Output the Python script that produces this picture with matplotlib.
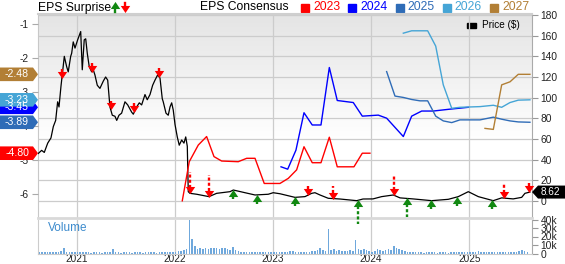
import numpy as np
import matplotlib.pyplot as plt
from matplotlib.lines import Line2D
from matplotlib.patches import Polygon, Rectangle
from matplotlib.transforms import blended_transform_factory

plt.rcParams['font.family'] = ['Liberation Sans', 'DejaVu Sans']
plt.rcParams['axes.unicode_minus'] = False

# ---- data (dates as decimal years) ----
price_t = [2020.609, 2020.643, 2020.670, 2020.705, 2020.738, 2020.762, 2020.786, 2020.806,
           2020.820, 2020.840, 2020.853, 2020.874, 2020.898, 2020.914, 2020.939, 2020.949,
           2020.965, 2020.983, 2021.010, 2021.041, 2021.057, 2021.077, 2021.092, 2021.108,
           2021.128, 2021.153, 2021.169, 2021.186, 2021.210, 2021.237, 2021.271, 2021.295,
           2021.316, 2021.339, 2021.363, 2021.390, 2021.408, 2021.431, 2021.458, 2021.492,
           2021.520, 2021.560, 2021.577, 2021.611, 2021.638, 2021.662, 2021.696, 2021.719,
           2021.747, 2021.774, 2021.798, 2021.825, 2021.849, 2021.872, 2021.882, 2021.910,
           2021.933, 2021.951, 2021.968, 2021.984, 2022.002, 2022.025, 2022.045, 2022.070,
           2022.093, 2022.111, 2022.127, 2022.137, 2022.154, 2022.223, 2022.348, 2022.426,
           2022.562, 2022.596, 2022.715, 2022.817, 2022.952, 2023.002, 2023.071, 2023.224,
           2023.326, 2023.394, 2023.428, 2023.479, 2023.563, 2023.683, 2023.853, 2023.917,
           2024.019, 2024.107, 2024.226, 2024.294, 2024.426, 2024.617, 2024.786, 2024.888,
           2024.990, 2025.092, 2025.244, 2025.330, 2025.447, 2025.534, 2025.567, 2025.618]
price_v = [46, 49, 47, 56, 61, 72, 78, 96,
           91, 111, 122, 140, 130, 125, 140, 143,
           154, 148, 156, 164, 127, 156, 157, 143,
           130, 125, 127, 122, 112, 109, 116, 120,
           117, 91, 83, 82, 78, 83, 85, 96,
           93, 86, 84, 91, 95, 93, 103, 98,
           103, 112, 117, 122, 119, 99, 96, 85,
           83, 91, 95, 88, 74, 62, 54, 59,
           56, 62, 53, 9, 7.4, 6.5, 4.2, 7.4,
           9, 10.6, 8, 5.8, 6.5, 8, 7, 3.5,
           4.2, 7.4, 8, 5.8, 2.6, 1.9, 0.3, 1.9,
           2, 4.2, 5.8, 3, 2, 0.3, 1.6, 4.2,
           9, 4.2, 0.3, 3, 2, 3.5, 7.4, 8.62]

eps23_t = [2022.076, 2022.147, 2022.239, 2022.324, 2022.399, 2022.477, 2022.646, 2022.732,
           2022.817, 2022.911, 2023.071, 2023.156, 2023.241, 2023.316, 2023.400, 2023.489,
           2023.574, 2023.655, 2023.825, 2023.910, 2023.988]
eps23_v = [-6.20, -5.05, -4.56, -4.31, -4.90, -5.03, -5.05, -4.95,
           -4.95, -5.69, -5.69, -5.54, -5.29, -4.61, -5.08, -5.08,
           -4.33, -5.20, -5.20, -4.80, -4.80]
eps24_t = [2023.082, 2023.150, 2023.234, 2023.316, 2023.400, 2023.489, 2023.574, 2023.655,
           2023.818, 2023.910, 2024.073, 2024.158, 2024.328, 2024.413, 2024.515, 2024.633,
           2024.786, 2024.990]
eps24_v = [-5.20, -5.27, -4.71, -3.61, -3.97, -3.97, -2.28, -3.25,
           -3.31, -3.71, -3.68, -3.77, -4.31, -3.71, -3.56, -3.56,
           -3.51, -3.45]
eps25_t = [2024.158, 2024.243, 2024.328, 2024.413, 2024.498, 2024.576, 2024.658, 2024.735,
           2024.821, 2024.905, 2025.109, 2025.245, 2025.330, 2025.415, 2025.499, 2025.618]
eps25_v = [-2.40, -3.12, -3.16, -3.22, -3.26, -3.26, -3.71, -3.85,
           -3.90, -3.82, -3.82, -3.74, -3.80, -3.85, -3.88, -3.89]
eps26_t = [2024.328, 2024.413, 2024.576, 2024.658, 2024.735, 2024.821, 2024.905, 2025.109,
           2025.245, 2025.330, 2025.415, 2025.499, 2025.618]
eps26_v = [-1.27, -1.20, -1.20, -1.65, -2.79, -3.48, -3.45, -3.43,
           -3.39, -3.45, -3.31, -3.24, -3.23]
eps27_t = [2025.160, 2025.245, 2025.330, 2025.415, 2025.499, 2025.618]
eps27_v = [-4.07, -4.10, -2.79, -2.70, -2.48, -2.48]

years = ['2023', '2024', '2025', '2026', '2027']
colors = ['#ff0000', '#0000ff', '#2f6cb7', '#45a5d6', '#b27f35']
eps_series = [(eps23_t, eps23_v), (eps24_t, eps24_v), (eps25_t, eps25_v),
              (eps26_t, eps26_v), (eps27_t, eps27_v)]

# EPS surprise: report dates, dashed tail length (0 = short solid arrow)
miss_t = [2020.850, 2021.153, 2021.346, 2021.587, 2021.842, 2022.154, 2022.348,
          2023.360, 2023.610, 2024.233, 2025.357, 2025.610]
miss_tail = [0, 0, 0, 0, 0, 16, 16, 0, 7, 14, 9, 0]
beat_t = [2022.596, 2022.840, 2023.224, 2023.863, 2024.368, 2024.610, 2024.870, 2025.228]
beat_tail = [0, 0, 0, 18, 13, 0, 0, 0]

# volume in thousands, one bar every ~10 days from mid 2020
vol_start = 2020.62
vol_k = [1.5, 1.2, 1.8, 1.5, 2.0, 1.5, 1.8, 2.2, 2.5, 6.0, 2.0, 1.5, 1.8, 1.2,
         # 2021
         1.5, 1.2, 1.8, 1.5, 1.2, 1.0, 1.5, 1.8, 1.2, 1.0, 1.3, 1.5, 1.8, 5.0, 1.5, 1.2, 1.0, 1.3,
         1.5, 1.2, 1.0, 1.2, 1.5, 1.3, 1.0, 1.2, 1.5, 1.3, 1.2, 1.0, 1.4, 1.6, 1.2, 1.5, 1.8, 2.0,
         # 2022
         2.0, 3.0, 3.5, 4.0, 5.0, 39.0, 17.0, 9.0, 5.0, 6.0, 5.0, 7.0, 5.0, 6.0, 7.0, 6.0, 5.0, 7.0,
         6.0, 5.0, 4.0, 8.0, 4.0, 2.5, 2.0, 2.0, 1.8, 2.0, 1.5, 1.8, 1.5, 1.5, 1.2, 1.5, 1.3, 1.5,
         # 2023
         1.2, 1.5, 1.3, 1.5, 1.8, 2.0, 2.5, 3.0, 2.0, 1.5, 1.8, 2.0, 1.5, 2.0, 2.5, 3.0, 4.0, 6.0,
         4.5, 3.5, 29.0, 4.0, 5.0, 3.0, 4.0, 3.0, 3.5, 3.0, 4.0, 3.0, 16.0, 5.0, 4.0, 5.0, 4.0, 3.0,
         # 2024
         2.0, 3.0, 5.0, 4.0, 3.0, 4.0, 5.0, 4.0, 9.0, 6.0, 5.0, 4.0, 3.0, 2.0, 1.5, 1.5, 1.2, 1.5,
         1.2, 1.0, 1.2, 1.5, 1.3, 1.2, 1.0, 1.2, 1.5, 1.2, 1.0, 1.2, 1.3, 1.5, 1.2, 1.5, 1.8, 1.5,
         # 2025
         1.5, 1.8, 2.0, 3.0, 1.5, 1.2, 1.5, 1.3, 1.5, 1.2, 1.8, 1.5, 1.3, 1.2, 1.5, 1.2, 1.5, 1.8,
         2.5, 4.0, 3.5, 2.0]

year_ticks = [2021, 2022, 2023, 2024, 2025]
XLIM = (2020.606, 2025.639)

# ---- layout (pixels of a 565x264 canvas) ----
W, H = 565, 264
fig = plt.figure(figsize=(W / 100, H / 100), dpi=100)


def box(left, top, right, bottom):
    return [left / W, 1 - bottom / H, (right - left) / W, (bottom - top) / H]


# gradient background of the main panel
bg = fig.add_axes(box(38, 14, 532, 217.5), zorder=0)
g = np.clip(0.895 + 0.105 * np.arange(100) / 62, 0, 1)
bg.imshow(np.dstack([g, g, g]).reshape(100, 1, 3), aspect='auto', extent=[0, 1, 0, 1])
bg.axis('off')

ax_v = fig.add_axes(box(38, 219.5, 532, 253.5), zorder=0.5)
ax = fig.add_axes(box(38, 14, 532, 217.5), zorder=1)
ax.patch.set_alpha(0)
ax_e = ax.twinx()
ax_e.set_zorder(2)
ax.yaxis.tick_right()
ax_e.yaxis.tick_left()

grid_c = '#cccccc'

# price axis (right)
ax.set_xlim(*XLIM)
ax.set_ylim(-16, 181)
ax.set_yticks(range(0, 181, 20))
ax.set_xticks(year_ticks)
ax.grid(True, color=grid_c, lw=0.9)
ax.set_axisbelow(True)
ax.tick_params(axis='x', length=0, labelbottom=False)
ax.tick_params(axis='y', right=True, left=False, length=4.5, color='#999999',
               labelsize=7.4, pad=1.5, labelcolor='#222222')
ax.spines['top'].set_color('#cfcfcf')
ax.spines['top'].set_linewidth(1.5)
ax.spines['bottom'].set_color('#d9d9d9')
ax.spines['bottom'].set_linewidth(2)
ax.spines['left'].set_color('#c8c8c8')
ax.spines['right'].set_color('#aaaaaa')

ax.plot(price_t, price_v, color='black', lw=0.9, zorder=3)

# EPS axis (left)
ax_e.set_ylim(-6.691, -0.706)
ax_e.set_yticks([-1, -2, -3, -4, -5, -6])
ax_e.tick_params(axis='y', left=True, right=False, length=4.5, color='#aaaaaa',
                 labelsize=7.4, pad=2, labelcolor='#222222')
for s in ax_e.spines.values():
    s.set_visible(False)

for (t, v), c in zip(eps_series, colors):
    ax_e.plot(t, v, color=c, lw=1.0, zorder=3)

# value tags on the left, drawn from the last consensus values
tr_l = blended_transform_factory(ax_e.transAxes, ax_e.transData)
hh = 6.8 / 34
for (t, v), c in zip(eps_series, colors):
    val = v[-1]
    pts = [(-38 / 494, val + hh), (-5 / 494, val + hh), (0, val),
           (-5 / 494, val - hh), (-38 / 494, val - hh)]
    ax_e.add_patch(Polygon(pts, closed=True, transform=tr_l, clip_on=False,
                           facecolor=c, edgecolor='none', zorder=6))
    ax_e.text(-21 / 494, val, f'{val:.2f}', transform=tr_l, color='white',
              fontsize=7.6, ha='center', va='center', zorder=7, clip_on=False)

# last price tag on the right
tr_r = blended_transform_factory(ax.transAxes, ax.transData)
last = price_v[-1]
ph = 6.5 / 1.033
pts = [(1, last), (1 + 6 / 494, last + ph), (1 + 33 / 494, last + ph),
       (1 + 33 / 494, last - ph), (1 + 6 / 494, last - ph)]
ax.add_patch(Polygon(pts, closed=True, transform=tr_r, clip_on=False,
                     facecolor='black', edgecolor='none', zorder=6))
ax.text(1 + 18 / 494, last, f'{last:.2f}', transform=tr_r, color='white',
        fontsize=7.2, ha='center', va='center', zorder=7, clip_on=False)


# EPS surprise arrows sitting on the price line
def surprise_arrow(t, tail, up, color):
    p = np.interp(t, price_t, price_v)
    d = -1 if up else 1
    head = [(-1, -0.75), (1, -0.75), (0, 0.75)] if up else [(-1, 0.75), (1, 0.75), (0, -0.75)]
    ax.plot([t], [p + d * 2.8], marker=head, ms=6.8, color=color, mec='none',
            zorder=5, clip_on=False)
    if tail > 0:
        ax.plot([t, t], [p + d * 5.0, p + d * (5.0 + tail)], color=color, lw=1.7,
                ls=(0, (1.3, 0.9)), zorder=5, clip_on=False, solid_capstyle='butt')
    else:
        ax.plot([t, t], [p + d * 5.0, p + d * 8.5], color=color, lw=1.7,
                zorder=5, clip_on=False, solid_capstyle='butt')


for t, tail in zip(miss_t, miss_tail):
    surprise_arrow(t, tail, False, '#ff0000')
for t, tail in zip(beat_t, beat_tail):
    surprise_arrow(t, tail, True, '#118811')

# Price legend inside the panel
fig.add_artist(Rectangle((467 / W, 1 - 27.5 / H), 9 / W, 4.5 / H,
                         transform=fig.transFigure, color='black'))
fig.text(482 / W, 1 - 25 / H, 'Price ($)', fontsize=7.2, va='center', ha='left')

# volume panel
vol_t = vol_start + np.arange(len(vol_k)) / 36
ax_v.bar(vol_t, vol_k, width=0.016, color='#6fa8dc', lw=0)
ax_v.set_xlim(*XLIM)
ax_v.set_ylim(0, 40)
ax_v.set_xticks(year_ticks)
ax_v.set_xticklabels([str(y) for y in year_ticks])
ax_v.set_yticks([0, 10, 20, 30, 40])
ax_v.set_yticklabels(['0', '10k', '20k', '30k', '40k'])
ax_v.yaxis.tick_right()
ax_v.grid(True, axis='x', color=grid_c, lw=0.9)
ax_v.set_axisbelow(True)
ax_v.tick_params(axis='x', length=0, labelsize=7.2, pad=0, labelcolor='#222222')
ax_v.tick_params(axis='y', length=4.5, color='#999999', labelsize=7.4, pad=1.5,
                 labelcolor='#222222')
ax_v.spines['top'].set_visible(False)
ax_v.spines['left'].set_color('#cccccc')
ax_v.spines['bottom'].set_color('#cccccc')
ax_v.spines['right'].set_color('#aaaaaa')
ax_v.text(0.02, 0.745, 'Volume', transform=ax_v.transAxes, color='#3d8bcd',
          fontsize=8.5, va='center', ha='left')

# header
hy = 1 - 7.5 / H
fig.text(38 / W, hy, 'EPS Surprise', fontsize=8.7, va='center', ha='left')


def header_arrow(x, up, color):
    xs = [x / W, x / W]
    if up:
        fig.add_artist(Line2D([x / W], [1 - 5.0 / H], marker=[(-1, -0.75), (1, -0.75), (0, 0.75)],
                              ms=6.8, color=color, mec='none', transform=fig.transFigure))
        fig.add_artist(Line2D(xs, [1 - 7 / H, 1 - 11.5 / H], color=color, lw=1.7,
                              transform=fig.transFigure))
    else:
        fig.add_artist(Line2D([x / W], [1 - 9.0 / H], marker=[(-1, 0.75), (1, 0.75), (0, -0.75)],
                              ms=6.8, color=color, mec='none', transform=fig.transFigure))
        fig.add_artist(Line2D(xs, [1 - 2.5 / H, 1 - 7 / H], color=color, lw=1.7,
                              transform=fig.transFigure))


header_arrow(115, True, '#118811')
header_arrow(125, False, '#ff0000')

fig.text(200 / W, hy, 'EPS Consensus', fontsize=8.7, va='center', ha='left')
for i, (yr, c) in enumerate(zip(years, colors)):
    x = 301 + 47.3 * i
    fig.add_artist(Rectangle((x / W, 1 - 11.5 / H), 8 / W, 8 / H,
                             transform=fig.transFigure, color=c))
    fig.text((x + 12) / W, hy, yr, fontsize=8.7, va='center', ha='left', color=c)

fig.savefig('out.png', dpi=100)
